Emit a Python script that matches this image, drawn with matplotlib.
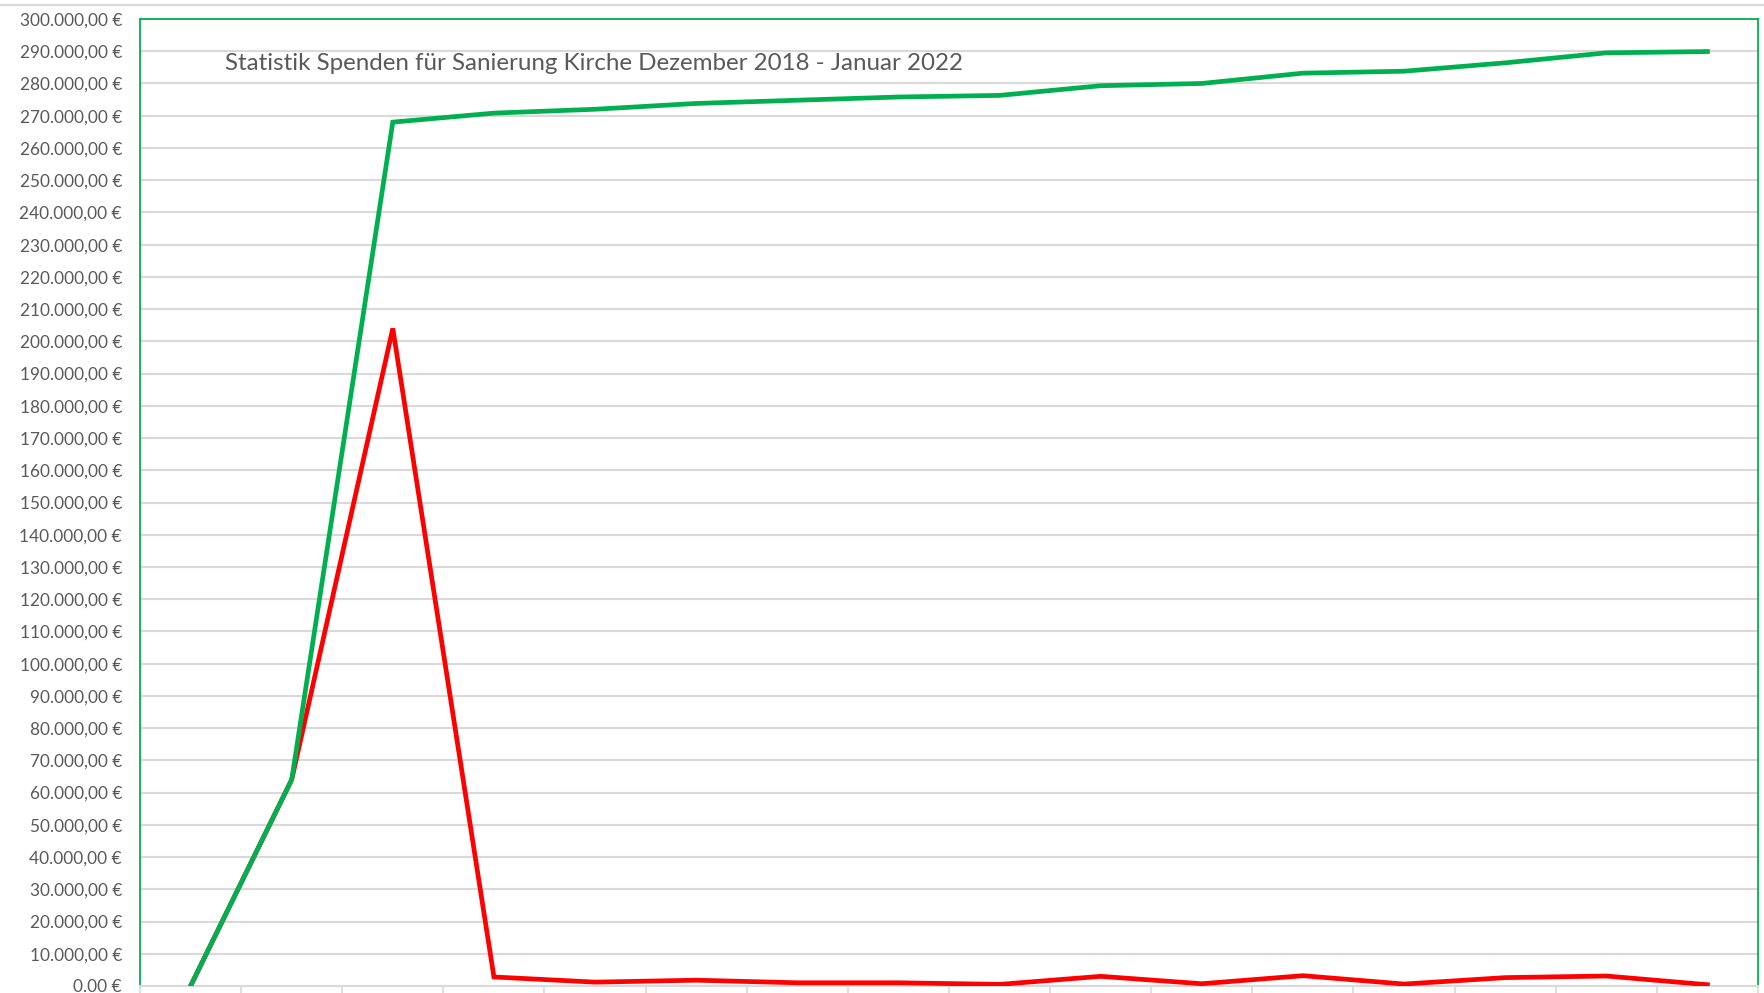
import numpy as np
import matplotlib.pyplot as plt
from matplotlib.lines import Line2D

# Monatliche Spenden (rot) und Gesamtsumme (grün), Werte aus dem Bild gelesen
months = list(range(16))
spenden = [0, 64000, 204000, 2800, 1200, 1800, 1000, 1000,
           500, 3000, 700, 3200, 600, 2600, 3100, 400]
summe = [0, 64000, 268000, 270800, 272000, 273800, 274800, 275800,
         276300, 279300, 280000, 283200, 283800, 286400, 289500, 289900]

title = 'Statistik Spenden für Sanierung Kirche Dezember 2018 - Januar 2022'
yticks = list(range(0, 300001, 10000))
yticklabels = ['0.00 €'] + ['{:,.2f} €'.format(v).replace(',', 'X').replace('.', ',').replace('X', '.')
                            for v in yticks[1:]]

GREEN = '#00B050'
RED = '#FF0000'
GRID = '#D9D9D9'
TEXT = '#595959'

plt.rcParams['font.family'] = ['Lato', 'DejaVu Sans']

fig = plt.figure(figsize=(17.65, 9.93), dpi=100)
ax = fig.add_axes([140/1765, 1 - 986/993, (1758 - 140)/1765, (986 - 19)/993])

ax.plot(months, spenden, color=RED, lw=3.4, solid_joinstyle='miter', zorder=3)
ax.plot(months, summe, color=GREEN, lw=3.4, solid_joinstyle='miter', zorder=4)

ax.set_xlim(-0.5, 15.5)
ax.set_ylim(0, 300000)
ax.set_yticks(yticks)
ax.set_yticklabels(yticklabels)
ax.tick_params(axis='y', length=0, pad=13, labelsize=12.4, labelcolor=TEXT)
ax.set_xticks(np.arange(-0.5, 16, 1))
ax.set_xticklabels([])
ax.tick_params(axis='x', length=6, width=1.2, color=GRID, direction='out')

ax.grid(axis='y', color=GRID, lw=1.5)
ax.set_axisbelow(True)
for s in ['left', 'top', 'right']:
    ax.spines[s].set_color(GREEN)
    ax.spines[s].set_linewidth(1.3)
ax.spines['bottom'].set_color(GRID)
ax.spines['bottom'].set_linewidth(1.5)

fig.text(225/1765, 1 - 63/993, title, fontsize=17.4, color=TEXT, va='center', ha='left')

# graue Linie am oberen Rand des Diagrammbereichs
fig.add_artist(Line2D([0, 1], [1 - 5/993, 1 - 5/993], color=GRID, lw=1.5))

fig.savefig('out.png', dpi=100, facecolor='white')
